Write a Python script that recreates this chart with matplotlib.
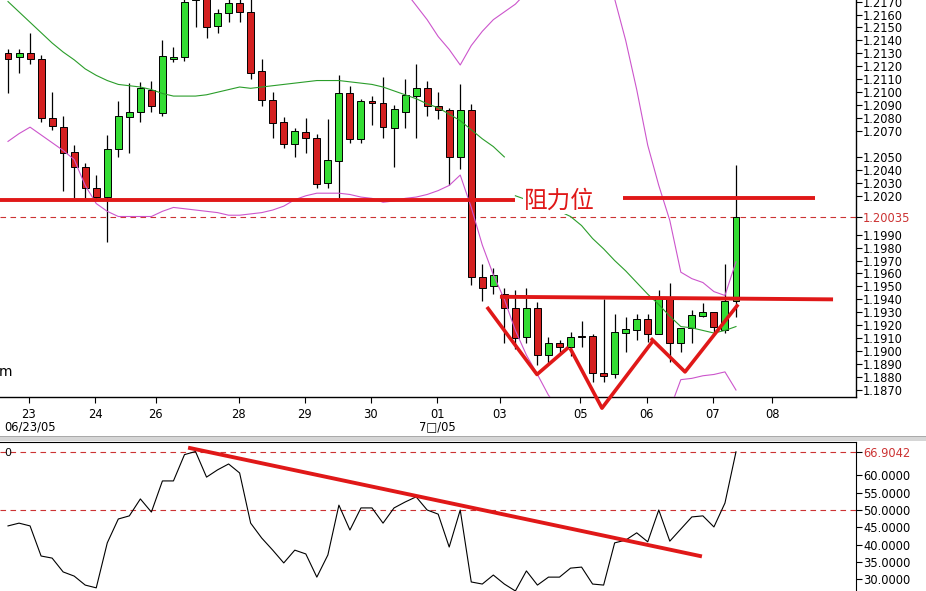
import matplotlib
matplotlib.use('Agg')
import matplotlib.pyplot as plt
import numpy as np
from matplotlib.patches import Rectangle

plt.rcParams['font.family'] = ['DejaVu Sans', 'Noto Sans CJK SC']

# 4小时K线 (开, 高, 低, 收)
opens = [1.2130, 1.2127, 1.2130, 1.2126, 1.2080, 1.2073, 1.2054, 1.2042, 1.2026, 1.2019,
         1.2056, 1.2081, 1.2085, 1.2102, 1.2084, 1.2126, 1.2127, 1.2171, 1.2180, 1.2151,
         1.2161, 1.2169, 1.2162, 1.2116, 1.2094, 1.2077, 1.2060, 1.2069, 1.2065, 1.2030,
         1.2047, 1.2099, 1.2064, 1.2093, 1.2092, 1.2072, 1.2085, 1.2097, 1.2103, 1.2089,
         1.2086, 1.2050, 1.2086, 1.1957, 1.1950, 1.1944, 1.1933, 1.1911, 1.1933, 1.1897,
         1.1906, 1.1903, 1.1912, 1.1912, 1.1883, 1.1882, 1.1914, 1.1916, 1.1925, 1.1913,
         1.1942, 1.1906, 1.1918, 1.1927, 1.1930, 1.1916, 1.1939]
highs = [1.2133, 1.2133, 1.2146, 1.2129, 1.2100, 1.2082, 1.2059, 1.2045, 1.2036, 1.2067,
         1.2093, 1.2107, 1.2108, 1.2109, 1.2140, 1.2135, 1.2175, 1.2185, 1.2185, 1.2164,
         1.2172, 1.2173, 1.2172, 1.2126, 1.2100, 1.2081, 1.2072, 1.2080, 1.2068, 1.2079,
         1.2113, 1.2105, 1.2095, 1.2097, 1.2112, 1.2090, 1.2110, 1.2122, 1.2109, 1.2100,
         1.2088, 1.2106, 1.2091, 1.1967, 1.1964, 1.1949, 1.1947, 1.1949, 1.1938, 1.1911,
         1.1909, 1.1915, 1.1923, 1.1913, 1.1940, 1.1929, 1.1926, 1.1929, 1.1929, 1.1947,
         1.1953, 1.1918, 1.1932, 1.1937, 1.1930, 1.1967, 1.2044]
lows = [1.2099, 1.2115, 1.2122, 1.2077, 1.2071, 1.2024, 1.2018, 1.2017, 1.2017, 1.1984,
        1.2050, 1.2053, 1.2077, 1.2085, 1.2082, 1.2123, 1.2124, 1.2150, 1.2142, 1.2146,
        1.2154, 1.2154, 1.2110, 1.2089, 1.2065, 1.2057, 1.2050, 1.2053, 1.2026, 1.2026,
        1.2018, 1.2061, 1.2061, 1.2075, 1.2065, 1.2042, 1.2072, 1.2065, 1.2082, 1.2079,
        1.2028, 1.2041, 1.1951, 1.1939, 1.1944, 1.1906, 1.1902, 1.1906, 1.1889, 1.1891,
        1.1898, 1.1896, 1.1903, 1.1876, 1.1876, 1.1879, 1.1899, 1.1909, 1.1907, 1.1913,
        1.1892, 1.1899, 1.1906, 1.1926, 1.1914, 1.1914, 1.1926]
closes = [1.2126, 1.2130, 1.2126, 1.2080, 1.2074, 1.2053, 1.2042, 1.2026, 1.2019, 1.2056,
          1.2082, 1.2085, 1.2103, 1.2089, 1.2128, 1.2127, 1.2170, 1.2178, 1.2150, 1.2161,
          1.2169, 1.2162, 1.2115, 1.2094, 1.2076, 1.2060, 1.2070, 1.2065, 1.2029, 1.2048,
          1.2099, 1.2064, 1.2093, 1.2092, 1.2073, 1.2087, 1.2098, 1.2103, 1.2089, 1.2086,
          1.2050, 1.2086, 1.1957, 1.1949, 1.1959, 1.1933, 1.1910, 1.1933, 1.1897, 1.1906,
          1.1903, 1.1911, 1.1911, 1.1883, 1.1881, 1.1915, 1.1917, 1.1925, 1.1913, 1.1942,
          1.1906, 1.1918, 1.1928, 1.1930, 1.1919, 1.1939, 1.20035]

# 均线 (两段)
ma = [1.2170, 1.2162, 1.2154, 1.2146, 1.2138, 1.2131, 1.2125, 1.2118, 1.2113, 1.2109,
      1.2106, 1.2105, 1.2104, 1.2102, 1.2099, 1.2097, 1.2097, 1.2097, 1.2098, 1.2100,
      1.2102, 1.2104, 1.2103, 1.2104, 1.2105, 1.2106, 1.2107, 1.2108, 1.2109, 1.2109,
      1.2109, 1.2108, 1.2107, 1.2106, 1.2104, 1.2101, 1.2098, 1.2095, 1.2091, 1.2088,
      1.2083, 1.2078, 1.2071, 1.2064, 1.2058, 1.2050, 1.2020, 1.2017, 1.2014, 1.2011,
      1.2008, 1.2004, 1.1997, 1.1987, 1.1979, 1.1970, 1.1962, 1.1953, 1.1944, 1.1936,
      1.1927, 1.1919, 1.1918, 1.1916, 1.1914, 1.1916, 1.1919]
ma_break = 46

# 布林带
upper = [1.2278, 1.2256, 1.2235, 1.2225, 1.2215, 1.2207, 1.2202, 1.2208, 1.2212, 1.2210,
         1.2208, 1.2206, 1.2204, 1.2200, 1.2190, 1.2183, 1.2184, 1.2185, 1.2188, 1.2193,
         1.2199, 1.2203, 1.2200, 1.2201, 1.2201, 1.2200, 1.2197, 1.2196, 1.2196, 1.2196,
         1.2197, 1.2195, 1.2195, 1.2194, 1.2193, 1.2186, 1.2178, 1.2167, 1.2156, 1.2143,
         1.2133, 1.2121, 1.2136, 1.2147, 1.2156, 1.2162, 1.2168, 1.2177, 1.2190, 1.2200,
         1.2205, 1.2205, 1.2205, 1.2202, 1.2196, 1.2172, 1.2140, 1.2102, 1.2059, 1.2028,
         1.2001, 1.1961, 1.1956, 1.1953, 1.1946, 1.1943, 1.1969]
lower = [1.2062, 1.2068, 1.2073, 1.2067, 1.2061, 1.2055, 1.2048, 1.2028, 1.2014, 1.2008,
         1.2004, 1.2004, 1.2004, 1.2004, 1.2008, 1.2011, 1.2010, 1.2009, 1.2008, 1.2007,
         1.2005, 1.2005, 1.2006, 1.2007, 1.2009, 1.2012, 1.2017, 1.2020, 1.2022, 1.2022,
         1.2022, 1.2021, 1.2019, 1.2018, 1.2015, 1.2016, 1.2018, 1.2019, 1.2021, 1.2024,
         1.2028, 1.2036, 1.2011, 1.1982, 1.1959, 1.1940, 1.1916, 1.1897, 1.1882, 1.1866,
         1.1855, 1.1847, 1.1843, 1.1841, 1.1841, 1.1841, 1.1841, 1.1841, 1.1841, 1.1843,
         1.1855, 1.1878, 1.1879, 1.1881, 1.1882, 1.1884, 1.1870]

# 下方指标
osc = [45.4, 46.2, 45.4, 36.7, 36.1, 32.1, 30.9, 28.3, 27.5, 40.5,
       47.4, 48.3, 53.2, 49.4, 58.4, 58.4, 66.0, 66.9, 59.5, 61.6,
       63.3, 60.7, 46.2, 41.9, 38.4, 34.7, 38.4, 37.3, 30.6, 37.0,
       51.4, 44.2, 50.6, 50.6, 46.2, 50.6, 52.3, 53.8, 50.0, 48.8,
       39.3, 50.0, 29.2, 28.6, 31.2, 28.6, 26.6, 32.4, 28.3, 30.6,
       30.6, 33.2, 33.5, 28.6, 28.3, 40.5, 41.3, 43.4, 40.8, 50.0,
       41.0, 44.5, 48.0, 48.3, 45.1, 52.0, 66.8]

# 坐标轴刻度
tick_pos = [1.9, 7.9, 13.4, 20.9, 26.9, 32.9, 38.9, 44.6, 51.9, 57.9, 63.9, 69.3]
tick_lab = ['23', '24', '26', '28', '29', '30', '01', '03', '05', '06', '07', '08']
price_ticks = [1.2170, 1.2160, 1.2150, 1.2140, 1.2130, 1.2120, 1.2110, 1.2100, 1.2090,
               1.2080, 1.2070, 1.2050, 1.2040, 1.2030, 1.2020, 1.20035, 1.1990, 1.1980,
               1.1970, 1.1960, 1.1950, 1.1940, 1.1930, 1.1920, 1.1910, 1.1900, 1.1890,
               1.1880, 1.1870]
osc_ticks = [66.9042, 60, 55, 50, 45, 40, 35, 30]

# 手绘标注 (K线序号, 价格)
resist1 = ([-0.8, 45.97], [1.2017, 1.2017])
resist2 = ([55.76, 73.2], [1.2018, 1.2018])
neck = ([44.6, 74.8], [1.1942, 1.1940])
v1 = ([43.52, 47.96, 50.68], [1.1933, 1.1882, 1.1902])
v2 = ([51.04, 53.85, 58.39], [1.1901, 1.1856, 1.1907])
v3 = ([58.39, 61.38, 66.09], [1.1909, 1.1884, 1.1935])
osc_trend = ([16.5, 62.74], [67.9, 36.7])

W, H = 926, 591
RED = '#d42020'
GREEN = '#33dd33'
ANN = '#e01818'

fig = plt.figure(figsize=(W / 100, H / 100), dpi=100)
ax = fig.add_axes([0, 1 - 397 / H, 856 / W, 397 / H])
ax2 = fig.add_axes([0, 0, 856 / W, (H - 442) / H])

x = np.arange(len(opens))
o = np.array(opens)
c = np.array(closes)
up = c >= o
body_lo = np.minimum(o, c)
body_h = np.maximum(np.abs(c - o), 0.00003)

ax.vlines(x, lows, highs, color='black', lw=0.9, zorder=2)
ax.bar(x[up], body_h[up], bottom=body_lo[up], width=0.63, color=GREEN,
       edgecolor='black', lw=0.7, zorder=3)
ax.bar(x[~up], body_h[~up], bottom=body_lo[~up], width=0.63, color=RED,
       edgecolor='black', lw=0.7, zorder=3)

ax.plot(x[:ma_break], ma[:ma_break], color='#2a9d2a', lw=0.8, zorder=4)
ax.plot(x[ma_break:], ma[ma_break:], color='#2a9d2a', lw=0.8, zorder=4)
ax.plot(x, upper, color='#cc55cc', lw=0.8, zorder=4)
ax.plot(x, lower, color='#cc55cc', lw=0.8, zorder=4)

ax.axhline(1.20035, color='#cc3333', lw=0.8, ls=(0, (5, 4)), zorder=1)

for seg in [resist1, resist2, neck]:
    ax.plot(seg[0], seg[1], color=ANN, lw=2.8, solid_capstyle='butt', zorder=6, clip_on=False)
for seg in [v1, v2, v3]:
    ax.plot(seg[0], seg[1], color=ANN, lw=2.6, zorder=6, clip_on=False)

ax.text(50.0, 1.2016, '阻力位', color=ANN, fontsize=17, ha='center', va='center',
        family=['Noto Sans CJK SC', 'DejaVu Sans'], zorder=5,
        bbox=dict(facecolor='white', edgecolor='none', pad=1))

ax.set_xlim(-8 / 11.03, 848 / 11.03)
ax.set_ylim(1.18646, 1.21712)
ax.yaxis.tick_right()
ax.set_yticks(price_ticks)
ax.set_yticklabels(['%.5f' % v if v == 1.20035 else '%.4f' % v for v in price_ticks])
ax.get_yticklabels()[price_ticks.index(1.20035)].set_color('#cc3333')
ax.set_xticks(tick_pos)
ax.set_xticklabels(tick_lab)
ax.tick_params(axis='y', direction='out', length=4, width=0.8, pad=1, labelsize=8.3)
ax.tick_params(axis='x', direction='out', length=4, width=0.8, pad=4, labelsize=8.3)
for s in ['top', 'left']:
    ax.spines[s].set_visible(False)
for s in ['right', 'bottom']:
    ax.spines[s].set_linewidth(1.0)

# 下方指标
ax2.plot(x, osc, color='black', lw=0.8, zorder=3)
ax2.axhline(66.9042, color='#cc3333', lw=0.8, ls=(0, (5, 4)), zorder=1)
ax2.axhline(50, color='#cc3333', lw=0.8, ls=(0, (5, 4)), zorder=1)
ax2.plot(osc_trend[0], osc_trend[1], color=ANN, lw=2.8, zorder=5, clip_on=False)
ax2.set_xlim(-8 / 11.03, 848 / 11.03)
ax2.set_ylim(26.59, 69.65)
ax2.yaxis.tick_right()
ax2.set_yticks(osc_ticks)
ax2.set_yticklabels(['%.4f' % v for v in osc_ticks])
ax2.get_yticklabels()[0].set_color('#cc3333')
ax2.set_xticks([])
ax2.tick_params(axis='y', direction='out', length=4, width=0.8, pad=1, labelsize=8.3)
for s in ['bottom', 'left']:
    ax2.spines[s].set_visible(False)

fig.text(4 / W, 1 - 427 / H, '06/23/05', fontsize=8.3, va='center', ha='left')
fig.text(437 / W, 1 - 427 / H, '7\u25a1/05', fontsize=8.3, va='center', ha='center')
fig.text(4 / W, 1 - 453 / H, '0', fontsize=8, va='center', ha='left')
fig.text(-1 / W, 1 - 372 / H, 'm', fontsize=10, va='center', ha='left')

fig.patches.append(Rectangle((0, 1 - 441 / H), 1, 5 / H, transform=fig.transFigure,
                             facecolor='#d6d6d6', edgecolor='none', zorder=0))
fig.patches.append(Rectangle((0, 1 - 437 / H), 1, 1 / H, transform=fig.transFigure,
                             facecolor='#aaaaaa', edgecolor='none', zorder=0))

fig.savefig('out.png', dpi=100)
